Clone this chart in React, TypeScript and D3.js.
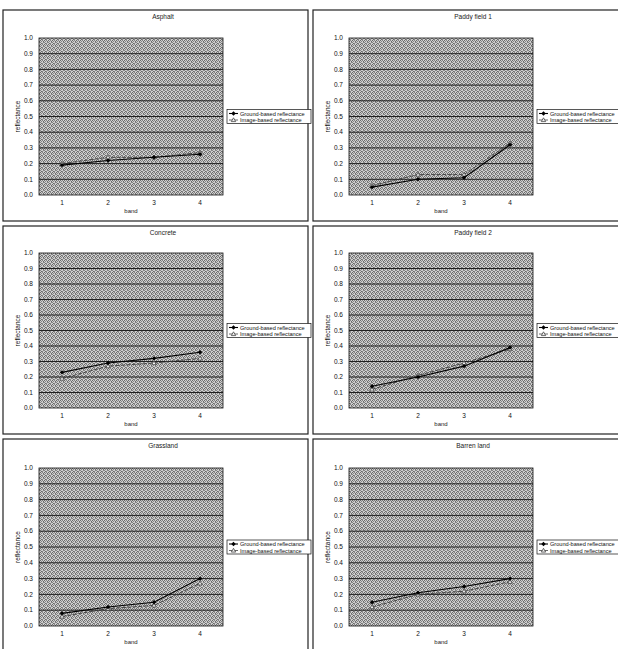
import React from "react";
import * as d3 from "d3";

// data
const titles = ["Asphalt", "Paddy field 1", "Concrete", "Paddy field 2", "Grassland", "Barren land"];
const bands = [1, 2, 3, 4];
const yTicks = [0, 0.1, 0.2, 0.3, 0.4, 0.5, 0.6, 0.7, 0.8, 0.9, 1.0];
const seriesNames = ["Ground-based reflectance", "Image-based reflectance"];

const groundBased = [
  [0.19, 0.22, 0.24, 0.26],
  [0.05, 0.10, 0.11, 0.32],
  [0.23, 0.29, 0.32, 0.36],
  [0.14, 0.20, 0.27, 0.39],
  [0.08, 0.12, 0.15, 0.30],
  [0.15, 0.21, 0.25, 0.30],
];
const imageBased = [
  [0.20, 0.24, 0.24, 0.27],
  [0.06, 0.13, 0.13, 0.33],
  [0.19, 0.27, 0.29, 0.32],
  [0.12, 0.21, 0.29, 0.38],
  [0.06, 0.11, 0.13, 0.27],
  [0.12, 0.20, 0.22, 0.28],
];

// layout of the 3x2 grid
const colX = [3, 313];
const colW = [305, 310];
const rowY = [10, 226, 439];
const rowH = [211, 208, 213];
const plotTop = [38, 253, 468];
const plotBottom = [195, 408, 626];
const plotLeft = 36;
const plotRight = 220;

const font = "'Liberation Sans', Arial, sans-serif";

// speckle cells for the scanned grey fill (4x4 tile)
const speckle = [
  [0, 0], [2, 0], [1, 1], [3, 1], [0, 2], [3, 2], [1, 3], [2, 3],
];

const Diamond = ({ x, y, fill }) => (
  <path d={`M${x},${y - 2.2}L${x + 2.2},${y}L${x},${y + 2.2}L${x - 2.2},${y}Z`} fill={fill} />
);
const Tri = ({ x, y }) => (
  <path d={`M${x},${y - 2.2}L${x + 2.2},${y + 1.6}L${x - 2.2},${y + 1.6}Z`} fill="#f0f0f0" stroke="#333" strokeWidth={0.7} />
);

const Panel = ({ i }) => {
  const col = i % 2;
  const row = Math.floor(i / 2);
  const x0 = colX[col];
  const y0 = rowY[row];
  const left = x0 + plotLeft;
  const right = x0 + plotRight;
  const top = plotTop[row];
  const bottom = plotBottom[row];

  const x = d3.scalePoint<number>().domain(bands).range([left, right]).padding(0.5);
  const y = d3.scaleLinear().domain([0, 1]).range([bottom, top]);
  const line = d3
    .line<number>()
    .x((_, k) => x(bands[k]) as number)
    .y((d) => y(d));

  const legY = (top + bottom) / 2 - 7;
  const legX = right + 4;

  return (
    <g fontFamily={font}>
      <rect x={x0} y={y0} width={colW[col]} height={rowH[row]} fill="white" stroke="#222" strokeWidth={1.2} />
      <text x={x0 + 160} y={y0 + 9} fontSize={6.5} textAnchor="middle" fill="#222">
        {titles[i]}
      </text>
      <rect x={left} y={top} width={right - left} height={bottom - top} fill="url(#dither)" stroke="#111" strokeWidth={0.8} />
      {yTicks.map((t) => (
        <g key={t}>
          {t > 0 && t < 1 && <line x1={left} x2={right} y1={y(t)} y2={y(t)} stroke="#111" strokeWidth={0.9} />}
          <text x={left - 6} y={y(t) + 2.2} fontSize={6.5} textAnchor="end" fill="#111">
            {t.toFixed(1)}
          </text>
        </g>
      ))}
      {bands.map((b) => (
        <text key={b} x={x(b)} y={bottom + 10} fontSize={6.5} textAnchor="middle" fill="#111">
          {b}
        </text>
      ))}
      <text x={(left + right) / 2} y={bottom + 18} fontSize={6} textAnchor="middle" fill="#222">
        band
      </text>
      <text
        transform={`translate(${x0 + 17},${(top + bottom) / 2}) rotate(-90)`}
        fontSize={6.5}
        textAnchor="middle"
        fill="#111"
      >
        reflectance
      </text>

      <path d={line(imageBased[i]) || ""} fill="none" stroke="#3a3a3a" strokeWidth={0.9} strokeDasharray="4,1.5" />
      {imageBased[i].map((v, k) => (
        <Tri key={k} x={x(bands[k]) as number} y={y(v)} />
      ))}
      <path d={line(groundBased[i]) || ""} fill="none" stroke="#000" strokeWidth={1.1} />
      {groundBased[i].map((v, k) => (
        <Diamond key={k} x={x(bands[k]) as number} y={y(v)} fill="#000" />
      ))}

      <rect x={legX} y={legY} width={84} height={14} fill="white" stroke="#111" strokeWidth={0.7} />
      {seriesNames.map((s, k) => {
        const ly = legY + 4 + k * 6.5;
        return (
          <g key={s}>
            <line x1={legX + 2} x2={legX + 11} y1={ly} y2={ly} stroke={k === 0 ? "#000" : "#444"} strokeWidth={k === 0 ? 1.1 : 0.8} />
            {k === 0 ? <Diamond x={legX + 6.5} y={ly} fill="#000" /> : <Tri x={legX + 6.5} y={ly} />}
            <text x={legX + 13} y={ly + 2} fontSize={5.6} fill="#111">
              {s}
            </text>
          </g>
        );
      })}
    </g>
  );
};

export default function App() {
  return (
    <svg
      width={618}
      height={649}
      style={{ position: "absolute", left: 0, top: 0, background: "white" }}
    >
      <defs>
        <pattern id="dither" width={4} height={4} patternUnits="userSpaceOnUse">
          <rect width={4} height={4} fill="#cfcfcf" />
          {speckle.map(([px, py], k) => (
            <rect key={k} x={px} y={py} width={1} height={1} fill={k % 3 === 0 ? "#6a6a6a" : "#858585"} />
          ))}
        </pattern>
      </defs>
      {titles.map((_, i) => (
        <Panel key={i} i={i} />
      ))}
    </svg>
  );
}
